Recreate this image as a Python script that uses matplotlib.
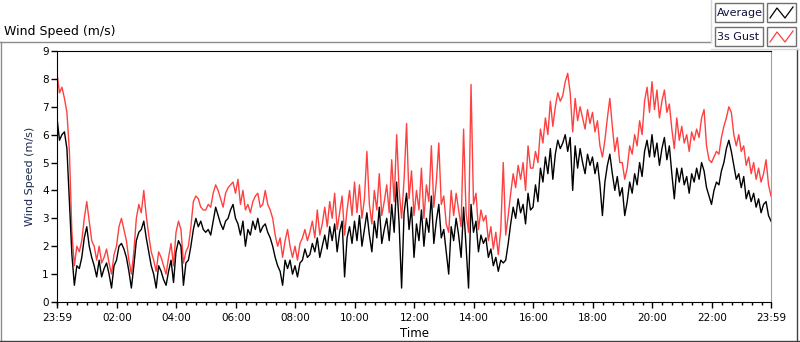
import numpy as np
import matplotlib.pyplot as plt
from matplotlib.lines import Line2D
from matplotlib.patches import Rectangle

# === Dados (amostras a cada 5 min, a partir das 23:59) ===
media = [
    6.6, 5.8, 6.0, 6.1, 5.5, 3.6, 1.7, 0.6, 1.3, 1.2, 1.6, 2.3,
    2.7, 2.0, 1.6, 1.3, 0.9, 1.5, 0.9, 1.2, 1.4, 1.0, 0.5, 1.3,
    1.5, 2.0, 2.1, 1.9, 1.6, 1.1, 0.5, 1.3, 2.2, 2.5, 2.6, 2.9,
    2.3, 1.8, 1.3, 1.0, 0.5, 1.3, 1.1, 0.8, 0.6, 1.1, 1.5, 0.7,
    1.8, 2.2, 2.0, 0.6, 1.4, 1.5, 2.0, 2.6, 3.0, 2.7, 2.9, 2.6,
    2.5, 2.6, 2.4, 2.9, 3.4, 3.1, 2.8, 2.6, 2.9, 3.0, 3.3, 3.5,
    3.0, 2.8, 2.4, 2.9, 2.0, 2.6, 2.4, 2.9, 2.6, 3.0, 2.5, 2.7,
    2.8, 2.5, 2.3, 2.0, 1.6, 1.3, 1.1, 0.6, 1.5, 1.2, 1.5, 1.0,
    1.3, 0.9, 1.4, 1.5, 1.9, 1.6, 1.7, 2.1, 1.8, 2.3, 1.6, 2.0,
    2.4, 1.9, 2.7, 2.2, 2.8, 1.8, 2.5, 2.9, 0.9, 2.3, 2.7, 2.1,
    2.9, 2.2, 3.1, 2.0, 2.6, 3.2, 2.4, 1.8, 2.9, 2.3, 3.4, 2.1,
    2.6, 3.0, 2.2, 3.5, 2.5, 4.3, 2.8, 0.5, 3.2, 3.9, 2.6, 3.4,
    1.6, 2.8, 2.2, 3.3, 2.0, 3.0, 2.5, 3.8, 2.1, 2.9, 3.5, 2.3,
    2.6, 1.8, 1.0, 2.7, 2.2, 3.0, 2.4, 1.6, 3.4, 2.0, 0.5, 3.5,
    2.5, 2.9, 1.8, 2.4, 2.1, 2.3, 1.6, 1.9, 1.3, 1.6, 1.1, 1.5,
    1.4, 1.5, 2.1, 2.8, 3.4, 3.0, 3.7, 3.2, 3.5, 2.8, 3.9, 3.3,
    3.4, 4.2, 3.6, 4.8, 4.3, 5.2, 4.6, 5.5, 4.4, 5.3, 5.8, 5.5,
    5.7, 6.0, 5.4, 5.9, 4.0, 5.6, 4.8, 5.5, 5.0, 4.6, 5.3, 4.9,
    5.2, 4.6, 5.0, 4.2, 3.1, 4.3, 4.9, 5.3, 4.6, 4.0, 4.5, 3.8,
    4.1, 3.1, 3.6, 4.3, 3.9, 4.6, 4.2, 5.0, 4.5, 5.4, 5.8, 5.2,
    6.0, 5.2, 5.7, 4.9, 5.5, 5.9, 5.1, 5.6, 4.6, 3.7, 4.8, 4.3,
    4.8, 4.2, 4.5, 3.9, 4.6, 4.3, 4.8, 4.4, 5.0, 4.7, 4.1, 3.8,
    3.5, 4.0, 4.3, 4.2, 4.7, 5.0, 5.5, 5.8, 5.4, 4.9, 4.4, 4.6,
    4.1, 4.5, 3.7, 4.0, 3.6, 3.9, 3.4, 3.7, 3.2, 3.5, 3.6, 3.1, 2.9,
]
rajada = [
    8.2, 7.5, 7.7, 7.3, 6.8, 5.4, 2.5, 1.3, 2.0, 1.8, 2.2, 3.0,
    3.6, 2.9, 2.2, 2.0, 1.5, 2.0, 1.4, 1.6, 1.9, 1.4, 1.0, 1.7,
    2.0, 2.7, 3.0, 2.6, 2.2, 1.5, 1.0, 1.8, 3.0, 3.5, 3.2, 4.0,
    3.1, 2.4, 1.8, 1.5, 1.1, 1.8, 1.6, 1.3, 1.0, 1.6, 2.1, 1.3,
    2.5, 2.9, 2.6, 1.4, 1.8, 2.0, 2.7, 3.6, 3.8, 3.7, 3.4, 3.3,
    3.3, 3.5, 3.4, 3.9, 4.2, 4.0, 3.7, 3.4, 3.9, 4.1, 4.2, 4.3,
    3.9, 4.4, 3.5, 4.0, 3.3, 3.5, 3.2, 3.6, 3.8, 3.9, 3.4, 3.5,
    4.0, 3.5, 3.3, 3.0, 2.4, 2.0, 2.3, 1.6, 2.2, 2.6, 2.0, 1.6,
    2.0, 1.5, 2.1, 2.3, 2.6, 2.2, 2.5, 2.9, 2.3, 3.3, 2.4, 2.8,
    3.4, 2.7, 3.6, 3.0, 3.9, 2.6, 3.2, 3.8, 2.4, 3.3, 4.0, 3.1,
    4.3, 3.2, 4.2, 3.0, 3.7, 5.4, 3.5, 2.8, 4.0, 3.3, 4.6, 3.1,
    3.6, 4.2, 3.2, 5.1, 3.6, 6.0, 4.0, 3.0, 4.4, 6.4, 3.7, 4.7,
    3.1, 4.0, 3.3, 4.8, 3.0, 4.2, 3.6, 5.6, 3.4, 4.3, 5.7, 3.5,
    3.8, 2.8, 2.5, 4.0, 3.1, 3.9, 3.3, 2.7, 6.2, 3.2, 2.5, 7.8,
    3.5, 3.9, 2.6, 3.3, 2.9, 3.1, 2.2, 2.7, 1.9, 2.5, 1.7, 2.6,
    5.0, 2.4, 3.1, 3.9, 4.6, 4.1, 4.9, 4.4, 5.0, 4.0, 5.6, 4.8,
    4.8, 5.4, 5.0, 6.2, 5.7, 6.6, 6.0, 7.2, 6.3, 7.0, 7.5, 7.2,
    7.4, 7.9, 8.2, 7.5, 6.1, 7.3, 6.5, 7.0, 6.6, 6.2, 6.9, 6.4,
    6.8, 6.1, 6.5, 5.6, 5.2, 5.8, 6.6, 7.3, 6.3, 5.4, 5.9, 5.0,
    5.0, 4.4, 4.8, 5.6, 5.3, 6.0, 5.6, 6.5, 6.0, 7.2, 7.7, 6.8,
    7.9, 6.9, 7.6, 6.6, 7.2, 7.6, 6.8, 7.1, 6.2, 5.5, 6.6, 5.8,
    6.3, 5.7, 6.0, 5.4, 6.1, 5.8, 6.2, 5.9, 6.6, 6.9, 5.6, 5.1,
    5.0, 5.2, 5.4, 5.3, 5.9, 6.3, 6.6, 7.0, 6.8, 6.0, 5.6, 6.0,
    5.4, 5.6, 4.9, 5.2, 4.6, 5.0, 4.4, 4.8, 4.3, 4.6, 5.1, 4.2, 3.8,
]
minutos = np.arange(len(media)) * 5  # minutos desde 23:59

ticks_maiores = [0, 121, 241, 361, 481, 601, 721, 841, 961, 1081, 1201, 1321, 1440]
rotulos_x = ['23:59', '02:00', '04:00', '06:00', '08:00', '10:00', '12:00',
             '14:00', '16:00', '18:00', '20:00', '22:00', '23:59']
ticks_menores = np.arange(1, 1440, 20)

# === Grafico ===
plt.rcParams['font.family'] = 'DejaVu Sans'
fig = plt.figure(figsize=(8, 3.42), dpi=100)
ax = fig.add_axes([57 / 800, 40 / 342, 714 / 800, 251 / 342])

ax.plot(minutos, rajada, color='#ff4040', linewidth=1.0)
ax.plot(minutos, media, color='black', linewidth=1.0)

ax.set_xlim(0, 1440)
ax.set_ylim(0, 9)
ax.set_yticks(range(10))
ax.set_xticks(ticks_maiores)
ax.set_xticklabels(rotulos_x)
ax.set_xticks(ticks_menores, minor=True)
ax.tick_params(axis='both', which='major', direction='out', length=4, width=1,
               labelsize=7.5, pad=2)
ax.tick_params(axis='x', which='major', pad=4)
ax.tick_params(axis='x', which='minor', direction='out', length=2, width=1)
ax.tick_params(axis='y', which='minor', length=0)
ax.set_xlabel('Time', fontsize=8.5, labelpad=3)
ax.set_ylabel('Wind Speed (m/s)', fontsize=8, color='#1c2a50', labelpad=5)
for lado in ['left', 'bottom', 'top']:
    ax.spines[lado].set_color('black')
ax.spines['right'].set_color('#a0a0a0')

# moldura externa e titulo
cinza = '#8c8c8c'
fig.add_artist(Line2D([0, 711 / 800], [1 - 42 / 342] * 2, color=cinza, lw=1))
fig.add_artist(Line2D([0.5 / 800] * 2, [0, 1 - 42 / 342], color=cinza, lw=1))
fig.add_artist(Line2D([0, 1], [1.5 / 342] * 2, color='#404040', lw=1))
fig.add_artist(Line2D([797 / 800] * 2, [1.5 / 342, 1 - 49 / 342], color='#404040', lw=1))
fig.add_artist(Line2D([711 / 800] * 2, [1 - 42 / 342, 1], color='#d8d8d8', lw=1))
fig.add_artist(Line2D([711 / 800, 1], [1 - 49 / 342] * 2, color='#d8d8d8', lw=1))
fig.text(4 / 800, 1 - 32 / 342, 'Wind Speed (m/s)', fontsize=9, va='center', ha='left')

# legenda estilo LabVIEW
def item_legenda(y_top, texto, cor):
    h = 19
    fig.add_artist(Rectangle((715 / 800, 1 - (y_top + h) / 342), 48 / 800, h / 342,
                             facecolor='white', edgecolor='#707070', lw=1))
    fig.text(717 / 800, 1 - (y_top + h / 2) / 342, texto, fontsize=8,
             va='center', ha='left', color='#101040')
    fig.add_artist(Rectangle((767 / 800, 1 - (y_top + h) / 342), 29 / 800, h / 342,
                             facecolor='white', edgecolor='#707070', lw=1))
    xs = np.array([770, 777, 785, 793]) / 800
    ys = 1 - (y_top + np.array([15, 5, 15, 4])) / 342
    fig.add_artist(Line2D(xs, ys, color=cor, lw=0.9))

item_legenda(3, 'Average', 'black')
item_legenda(27, '3s Gust', '#ff4040')

fig.savefig('out.png', dpi=100)
